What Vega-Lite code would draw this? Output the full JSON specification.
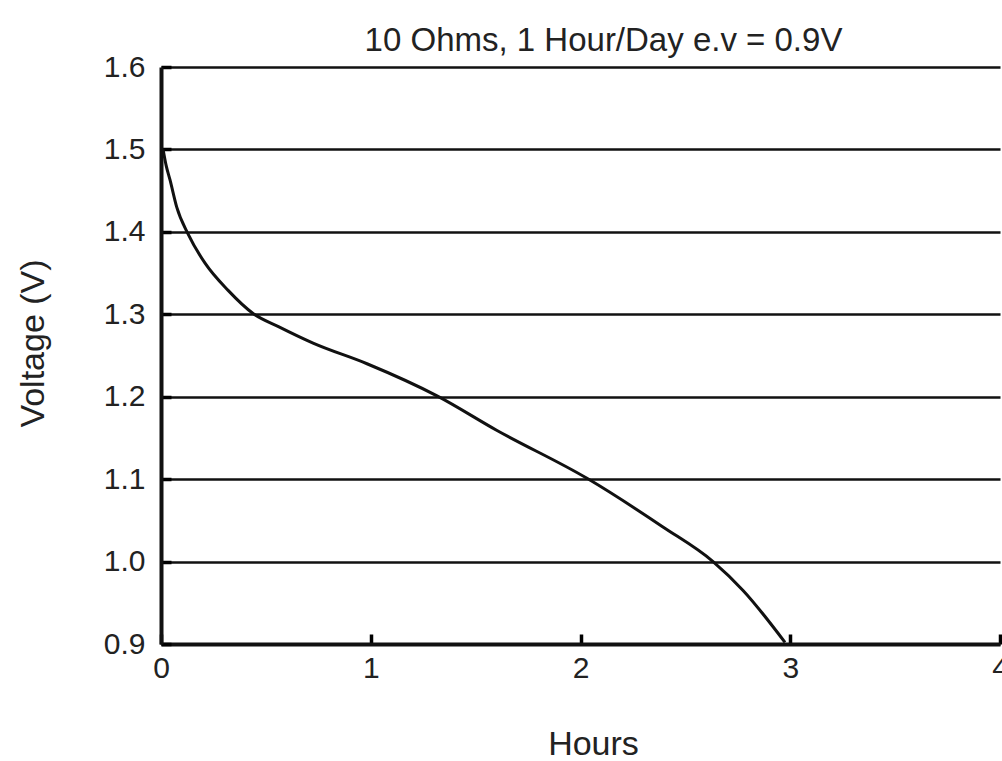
{
  "$schema": "https://vega.github.io/schema/vega-lite/v6.json",
  "width": 839,
  "height": 577,
  "autosize": {"type": "none"},
  "padding": {"left": 161, "top": 67, "right": 2, "bottom": 117},
  "background": "white",
  "config": {
    "view": {"stroke": null},
    "font": "Liberation Sans"
  },
  "title": {
    "text": "10 Ohms, 1 Hour/Day e.v = 0.9V",
    "fontSize": 33,
    "fontWeight": "normal",
    "color": "#222",
    "font": "Liberation Sans",
    "anchor": "middle",
    "dx": 23,
    "offset": -6
  },
  "data": {
    "values": [
      {"hours": 0.01, "voltage": 1.5},
      {"hours": 0.025, "voltage": 1.48},
      {"hours": 0.043, "voltage": 1.463},
      {"hours": 0.075, "voltage": 1.43},
      {"hours": 0.13, "voltage": 1.397},
      {"hours": 0.21, "voltage": 1.362},
      {"hours": 0.32, "voltage": 1.329},
      {"hours": 0.439, "voltage": 1.301},
      {"hours": 0.56, "voltage": 1.285},
      {"hours": 0.725, "voltage": 1.265},
      {"hours": 0.982, "voltage": 1.24},
      {"hours": 1.316, "voltage": 1.201},
      {"hours": 1.602, "voltage": 1.159},
      {"hours": 2.031, "voltage": 1.101},
      {"hours": 2.393, "voltage": 1.042},
      {"hours": 2.632, "voltage": 1.0},
      {"hours": 2.775, "voltage": 0.965},
      {"hours": 2.975, "voltage": 0.902}
    ]
  },
  "mark": {"type": "line", "color": "#111", "strokeWidth": 3, "interpolate": "monotone"},
  "encoding": {
    "x": {
      "field": "hours",
      "type": "quantitative",
      "scale": {"domain": [0, 4], "nice": false},
      "axis": {
        "title": "Hours",
        "values": [0, 1, 2, 3, 4],
        "grid": false,
        "ticks": true,
        "domainColor": "#111",
        "domainWidth": 4,
        "tickColor": "#000",
        "tickWidth": 3.5,
        "tickSize": -10,
        "labelPadding": 19,
        "labelFontSize": 30,
        "labelColor": "#222",
        "labelFont": "Liberation Sans",
        "labelFlush": false,
        "titleFontSize": 34,
        "titleFontWeight": "normal",
        "titleColor": "#222",
        "titleFont": "Liberation Sans",
        "titleX": 432,
        "titleY": 83
      }
    },
    "y": {
      "field": "voltage",
      "type": "quantitative",
      "scale": {"domain": [0.9, 1.6], "nice": false, "zero": false},
      "axis": {
        "title": "Voltage (V)",
        "values": [0.9, 1.0, 1.1, 1.2, 1.3, 1.4, 1.5, 1.6],
        "format": ".1f",
        "grid": true,
        "ticks": true,
        "gridColor": "#111",
        "gridWidth": 2.5,
        "gridOpacity": 1,
        "domainColor": "#111",
        "domainWidth": 4,
        "tickColor": "#000",
        "tickWidth": 3.5,
        "tickSize": -10,
        "labelPadding": 26,
        "labelFontSize": 30,
        "labelColor": "#222",
        "labelFont": "Liberation Sans",
        "labelFlush": false,
        "titleFontSize": 34,
        "titleFontWeight": "normal",
        "titleColor": "#222",
        "titleFont": "Liberation Sans",
        "titleX": -128,
        "titleY": 276,
        "titleAlign": "center",
        "titleBaseline": "middle",
        "titleAngle": -90
      }
    }
  }
}
